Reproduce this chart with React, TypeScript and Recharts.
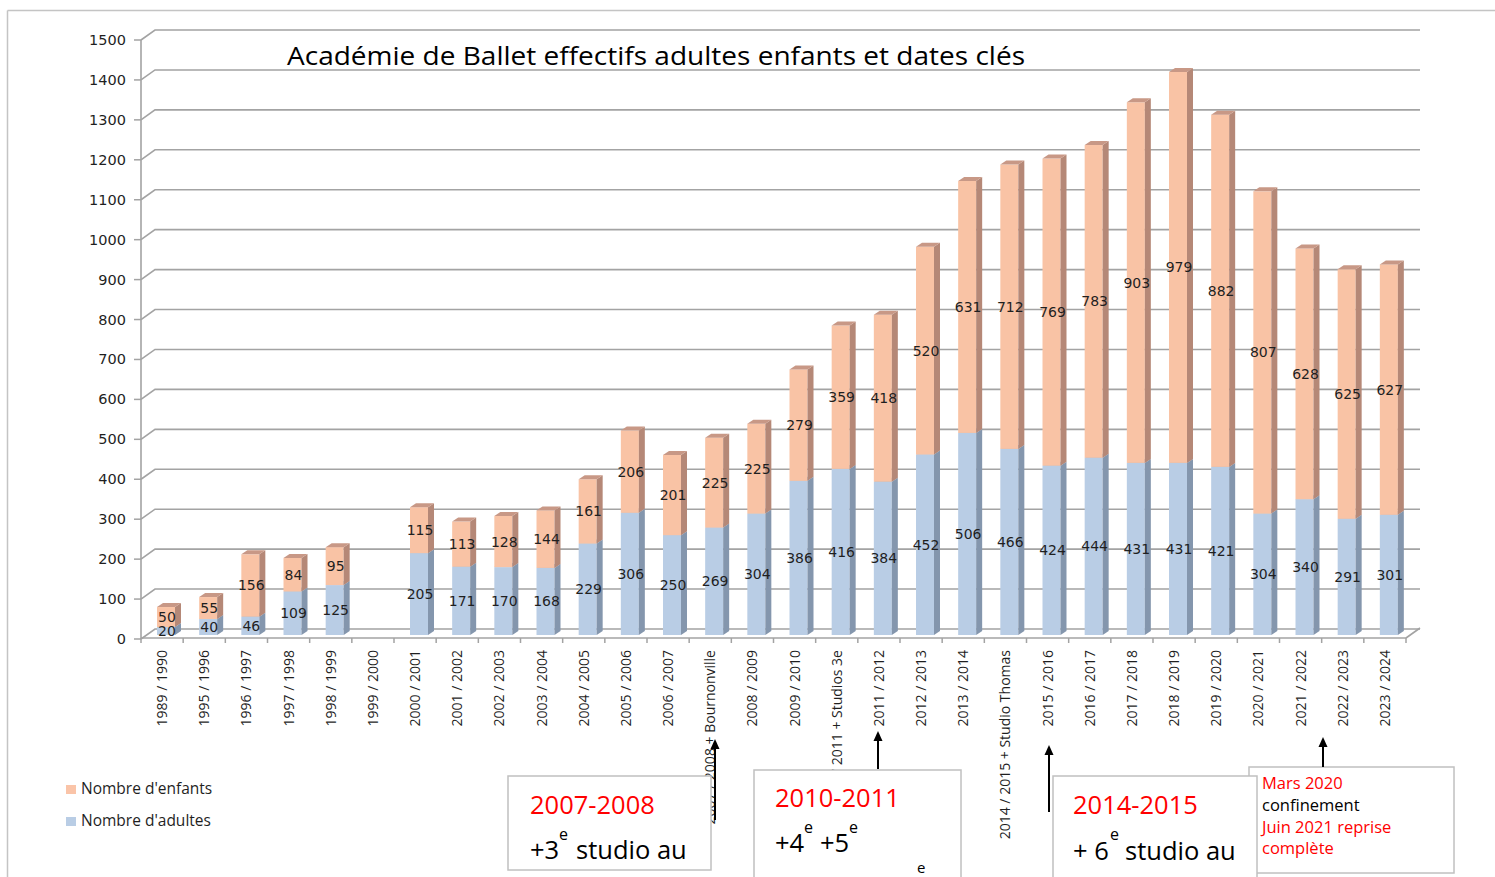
import React from "react";
import { BarChart, Bar, XAxis, YAxis, CartesianGrid, LabelList } from "recharts";

const seasons = [
  "1989 / 1990",
  "1995 / 1996",
  "1996 / 1997",
  "1997 / 1998",
  "1998 / 1999",
  "1999 / 2000",
  "2000 / 2001",
  "2001 / 2002",
  "2002 / 2003",
  "2003 / 2004",
  "2004 / 2005",
  "2005 / 2006",
  "2006 / 2007",
  "2007 / 2008 + Bournonville",
  "2008 / 2009",
  "2009 / 2010",
  "2010 / 2011 + Studios 3e",
  "2011 / 2012",
  "2012 / 2013",
  "2013 / 2014",
  "2014 / 2015 + Studio Thomas",
  "2015 / 2016",
  "2016 / 2017",
  "2017 / 2018",
  "2018 / 2019",
  "2019 / 2020",
  "2020 / 2021",
  "2021 / 2022",
  "2022 / 2023",
  "2023 / 2024",
];

const adultes = [
  20, 40, 46, 109, 125, null, 205, 171, 170, 168, 229, 306, 250, 269, 304,
  386, 416, 384, 452, 506, 466, 424, 444, 431, 431, 421, 304, 340, 291, 301,
];

const enfants = [
  50, 55, 156, 84, 95, null, 115, 113, 128, 144, 161, 206, 201, 225, 225,
  279, 359, 418, 520, 631, 712, 769, 783, 903, 979, 882, 807, 628, 625, 627,
];

const yTicks = [0, 100, 200, 300, 400, 500, 600, 700, 800, 900, 1000, 1100, 1200, 1300, 1400, 1500];

const data = seasons.map((season, i) => ({
  season,
  adultes: adultes[i],
  enfants: enfants[i],
}));

// layout (page pixels)
const W = 1495;
const H = 877;
const PLOT_LEFT = 141;
const PLOT_RIGHT = 1406;
const PLOT_TOP = 36;
const PLOT_BOTTOM = 635;
const Y_AXIS_W = 60;
const X_AXIS_H = 200;
const BAND = (PLOT_RIGHT - PLOT_LEFT) / seasons.length;

// 3d look
const DEPTH_X = 14; // back wall offset
const DEPTH_Y = 10;
const FRONT_DY = 4; // front axis sits a bit lower than the bar base
const BAR_DX = 6;
const BAR_DY = 4;
const BAR_SHIFT = 4;

const GRID = "#a3a3a3";
const TEXT = "#1f1f1f";
const FONT = "'Open Sans', sans-serif";
const NUM_FONT = "'DejaVu Sans', sans-serif";

const Bar3D = (props: any) => {
  const { x, y, width, height, front, side, top } = props;
  if (x == null || !height || height <= 0) return null;
  const x0 = x + BAR_SHIFT;
  const x1 = x0 + width;
  return (
    <g>
      <rect x={x0} y={y} width={width} height={height} fill={front} />
      <polygon
        points={`${x1},${y} ${x1 + BAR_DX},${y - BAR_DY} ${x1 + BAR_DX},${y + height - BAR_DY} ${x1},${y + height}`}
        fill={side}
      />
      <polygon
        points={`${x0},${y} ${x0 + BAR_DX},${y - BAR_DY} ${x1 + BAR_DX},${y - BAR_DY} ${x1},${y}`}
        fill={top}
      />
    </g>
  );
};

const ValueLabel = (props: any) => {
  const vb = props.viewBox || props;
  const { value } = props;
  if (value == null || vb.x == null) return null;
  return (
    <text
      x={vb.x + vb.width / 2 + BAR_SHIFT + 1}
      y={vb.y + vb.height / 2}
      textAnchor="middle"
      dominantBaseline="central"
      fontFamily={NUM_FONT}
      fontSize={14}
      fill={TEXT}
    >
      {value}
    </text>
  );
};

const GridLine = (p: any) => {
  const y = p.y1;
  const pts = `${p.x1},${y + FRONT_DY} ${p.x1 + DEPTH_X},${y + FRONT_DY - DEPTH_Y} ${p.x2 + DEPTH_X},${y + FRONT_DY - DEPTH_Y}`;
  return <polyline key={p.key} points={pts} fill="none" stroke={GRID} strokeWidth={1.6} />;
};

const YTick = (props: any) => {
  const { y, payload } = props;
  const yy = y + FRONT_DY;
  return (
    <g>
      <line x1={PLOT_LEFT - 7} y1={yy} x2={PLOT_LEFT} y2={yy} stroke={GRID} strokeWidth={1.5} />
      <text
        x={PLOT_LEFT - 15}
        y={yy}
        textAnchor="end"
        dominantBaseline="central"
        fontFamily={NUM_FONT}
        fontSize={14.5}
        fill={TEXT}
      >
        {payload.value}
      </text>
    </g>
  );
};

const XTick = (props: any) => {
  const { x, payload, index } = props;
  const left = x - BAND / 2;
  const right = x + BAND / 2;
  const axisY = PLOT_BOTTOM + 3;
  return (
    <g>
      <line x1={left} y1={axisY} x2={left} y2={axisY + 5} stroke={GRID} strokeWidth={1.5} />
      {index === seasons.length - 1 && (
        <line x1={right} y1={axisY} x2={right} y2={axisY + 5} stroke={GRID} strokeWidth={1.5} />
      )}
      <text
        transform={`translate(${x + 5},${axisY + 12}) rotate(-90)`}
        textAnchor="end"
        fontFamily={FONT}
        fontSize={14}
        fill={TEXT}
      >
        {payload.value}
      </text>
    </g>
  );
};

const Arrow = ({ x, top, bottom }: { x: number; top: number; bottom: number }) => (
  <g>
    <line x1={x} y1={top + 8} x2={x} y2={bottom} stroke="#000" strokeWidth={2} />
    <polygon points={`${x},${top} ${x - 4.5},${top + 10} ${x + 4.5},${top + 10}`} fill="#000" />
  </g>
);

const Overlay = () => {
  const axisY = PLOT_BOTTOM + 3;
  return (
    <svg
      width={W}
      height={H}
      style={{ position: "absolute", left: 0, top: 0, pointerEvents: "none" }}
    >
      {/* chart area frame */}
      <line x1={7.5} y1={10.5} x2={W} y2={10.5} stroke="#c4c4c4" strokeWidth={1.5} />
      <line x1={7.5} y1={10.5} x2={7.5} y2={H} stroke="#c4c4c4" strokeWidth={1.5} />

      {/* axes */}
      <line x1={PLOT_LEFT} y1={PLOT_TOP + FRONT_DY} x2={PLOT_LEFT} y2={PLOT_BOTTOM + FRONT_DY} stroke={GRID} strokeWidth={1.6} />
      <line x1={PLOT_LEFT} y1={axisY} x2={PLOT_RIGHT} y2={axisY} stroke={GRID} strokeWidth={1.6} />
      <line x1={PLOT_RIGHT} y1={axisY} x2={PLOT_RIGHT + DEPTH_X} y2={axisY - DEPTH_Y} stroke={GRID} strokeWidth={1.6} />

      {/* title */}
      <text x={287} y={65} fontFamily={FONT} fontSize={25.5} fill="#000" textLength={738} lengthAdjust="spacingAndGlyphs">
        Académie de Ballet effectifs adultes enfants et dates clés
      </text>

      {/* legend */}
      <rect x={66} y={785} width={10} height={9} fill="#fac4a8" />
      <text x={81} y={794} fontFamily={FONT} fontSize={15.5} fill={TEXT}>Nombre d'enfants</text>
      <rect x={66} y={817} width={10} height={9} fill="#b9cde5" />
      <text x={81} y={826} fontFamily={FONT} fontSize={15.5} fill={TEXT}>Nombre d'adultes</text>

      {/* annotation: covid */}
      <rect x={1249} y={767} width={205} height={106} fill="#fff" stroke="#c0c0c0" strokeWidth={1.5} />
      <g fontFamily={FONT} fontSize={16.5}>
        <text x={1262} y={789} fill="#ff0000">Mars 2020</text>
        <text x={1262} y={811} fill="#000">confinement</text>
        <text x={1262} y={833} fill="#ff0000">Juin 2021 reprise</text>
        <text x={1262} y={854} fill="#ff0000">complète</text>
      </g>

      {/* annotation: 2007-2008 */}
      <rect x={508} y={776} width={203} height={94} fill="#fff" stroke="#c0c0c0" strokeWidth={1.5} />
      <g fontFamily={FONT} fontSize={25.5}>
        <text x={530} y={814} fill="#ff0000">2007-2008</text>
        <text x={530} y={859} fill="#000">+3</text>
        <text x={559} y={840} fill="#000" fontSize={16}>e</text>
        <text x={576} y={859} fill="#000">studio au</text>
      </g>

      {/* annotation: 2010-2011 */}
      <rect x={754} y={770} width={207} height={120} fill="#fff" stroke="#c0c0c0" strokeWidth={1.5} />
      <g fontFamily={FONT} fontSize={25.5}>
        <text x={775} y={807} fill="#ff0000">2010-2011</text>
        <text x={775} y={852} fill="#000">+4</text>
        <text x={804} y={833} fill="#000" fontSize={16}>e</text>
        <text x={820} y={852} fill="#000">+5</text>
        <text x={849} y={833} fill="#000" fontSize={16}>e</text>
        <text x={917} y={873} fill="#000" fontSize={15}>e</text>
      </g>

      {/* annotation: 2014-2015 */}
      <rect x={1053} y={776} width={204} height={120} fill="#fff" stroke="#c0c0c0" strokeWidth={1.5} />
      <g fontFamily={FONT} fontSize={25.5}>
        <text x={1073} y={814} fill="#ff0000">2014-2015</text>
        <text x={1073} y={860} fill="#000">+ 6</text>
        <text x={1110} y={840} fill="#000" fontSize={16}>e</text>
        <text x={1125} y={860} fill="#000">studio au</text>
      </g>

      <Arrow x={715} top={739} bottom={820} />
      <Arrow x={878} top={731} bottom={769} />
      <Arrow x={1049} top={745} bottom={812} />
      <Arrow x={1323} top={737} bottom={767} />
    </svg>
  );
};

export default function App() {
  return (
    <div style={{ position: "absolute", left: 0, top: 0, width: W, height: H, background: "#fff" }}>
      <BarChart
        width={W}
        height={H}
        data={data}
        barSize={18}
        margin={{
          top: PLOT_TOP,
          right: W - PLOT_RIGHT,
          left: PLOT_LEFT - Y_AXIS_W,
          bottom: H - PLOT_BOTTOM - X_AXIS_H,
        }}
      >
        <CartesianGrid vertical={false} horizontal={GridLine} />
        <XAxis
          dataKey="season"
          interval={0}
          height={X_AXIS_H}
          axisLine={false}
          tickLine={false}
          tick={XTick}
        />
        <YAxis
          width={Y_AXIS_W}
          domain={[0, 1500]}
          ticks={yTicks}
          axisLine={false}
          tickLine={false}
          tick={YTick}
        />
        <Bar
          dataKey="adultes"
          stackId="a"
          isAnimationActive={false}
          shape={(p: any) => <Bar3D {...p} front="#b9cde5" side="#8496ad" top="#9fb2c9" />}
        >
          <LabelList dataKey="adultes" content={ValueLabel} />
        </Bar>
        <Bar
          dataKey="enfants"
          stackId="a"
          isAnimationActive={false}
          shape={(p: any) => <Bar3D {...p} front="#f9c3a5" side="#b58877" top="#c89886" />}
        >
          <LabelList dataKey="enfants" content={ValueLabel} />
        </Bar>
      </BarChart>
      <Overlay />
    </div>
  );
}
